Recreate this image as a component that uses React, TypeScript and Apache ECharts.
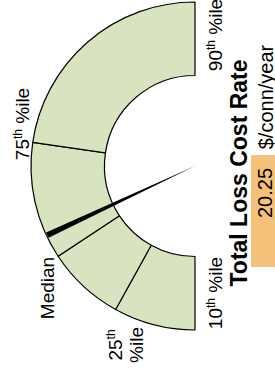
import React, { useEffect, useRef } from "react";
import * as echarts from "echarts";

// Data
const percentileNames = ["10th", "25th", "Median", "75th", "90th"];
const percentileValues = [5.0, 11.8, 18.3, 28.1, 47.3];
const currentValue = 20.25;
const titleText = "Total Loss Cost Rate";
const unitText = "$/conn/year";

const FONT = "Liberation Sans, Arial, sans-serif";
const GREEN = "#d7e4bf";
const ORANGE = "#f4c17a";

const CX = 195;
const CY = 166;
const R_OUT = 164;
const R_IN = 90.5;

function supLabel(n: string) {
  const m = n.match(/^(\d+)(\D+)$/);
  if (!m) return `{n|${n}}`;
  return `{n|${m[1]}}{s|${m[2]}}`;
}

const rich = {
  n: { fontSize: 19, fontFamily: FONT, fill: "#000", lineHeight: 21, verticalAlign: "middle" },
  s: { fontSize: 12, fontFamily: FONT, fill: "#000", lineHeight: 21, verticalAlign: "top" },
};

function rotText(x: number, y: number, text: string, extra: any = {}) {
  return {
    type: "text",
    x,
    y,
    rotation: Math.PI / 2,
    silent: true,
    z: 20,
    style: {
      text,
      fontSize: 19,
      fontFamily: FONT,
      fill: "#000",
      align: "center",
      verticalAlign: "middle",
      textAlign: "center",
      textVerticalAlign: "middle",
      rich,
      ...extra,
    },
  };
}

export default function App() {
  const ref = useRef<HTMLDivElement>(null);
  useEffect(() => {
    if (!ref.current) return;
    const chart = echarts.init(ref.current, null, { renderer: "svg" });
    const total = percentileValues[percentileValues.length - 1] - percentileValues[0];
    const segs = [];
    for (let i = 1; i < percentileValues.length; i++) {
      segs.push({
        name: percentileNames[i - 1] + "-" + percentileNames[i],
        value: +(percentileValues[i] - percentileValues[i - 1]).toFixed(3),
        itemStyle: { color: GREEN, borderColor: "#000", borderWidth: 1.2 },
      });
    }
    segs.push({
      name: "hidden",
      value: total,
      itemStyle: { color: "rgba(0,0,0,0)", borderWidth: 0 },
    });

    const lbl = (name: string) => `${supLabel(name)}{n| %ile}`;

    chart.setOption({
      animation: false,
      series: [
        {
          type: "pie",
          silent: true,
          z: 1,
          center: [CX, CY],
          radius: [R_IN, R_OUT],
          startAngle: 270,
          clockwise: true,
          label: { show: false },
          labelLine: { show: false },
          emphasis: { disabled: true },
          data: segs,
        },
        {
          type: "gauge",
          silent: true,
          z: 10,
          center: [CX, CY],
          radius: R_OUT - 1,
          startAngle: 270,
          endAngle: 90,
          min: percentileValues[0],
          max: percentileValues[percentileValues.length - 1],
          axisLine: { show: false },
          splitLine: { show: false },
          axisTick: { show: false },
          axisLabel: { show: false },
          progress: { show: false },
          anchor: { show: false },
          title: { show: false },
          detail: { show: false },
          pointer: {
            show: true,
            icon: "path://M0,0 L10,0 L5,100 Z",
            length: "100%",
            width: 6,
            keepAspect: false,
            itemStyle: { color: "#000" },
          },
          data: [{ value: currentValue }],
        },
      ],
      graphic: [
        rotText(215, 35, lbl(percentileNames[4])),
        rotText(215, 293, lbl(percentileNames[0])),
        rotText(22, 124, lbl(percentileNames[3])),
        rotText(47, 288, `{n|${percentileNames[2]}}`),
        rotText(126, 345, `${supLabel(percentileNames[1])}\n{n|%ile}`),
        {
          type: "rect",
          silent: true,
          z: 15,
          shape: { x: 251, y: 155, width: 30, height: 112 },
          style: { fill: ORANGE },
        },
        rotText(239, 173, titleText, { fontSize: 23, fontWeight: "bold", rich: undefined }),
        rotText(265, 193, String(currentValue), { fontSize: 20, rich: undefined }),
        rotText(266, 97, unitText, { fontSize: 20, rich: undefined }),
      ],
    });
    return () => chart.dispose();
  }, []);
  return (
    <div
      ref={ref}
      style={{ position: "fixed", left: 0, top: 0, width: 275, height: 370, background: "#fff" }}
    />
  );
}
